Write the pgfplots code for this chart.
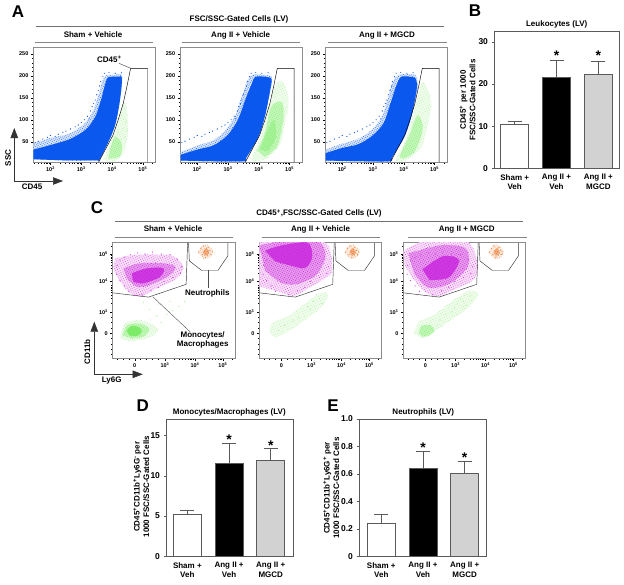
\documentclass[border=0pt]{standalone}
\usepackage{fontspec}
\setmainfont{Liberation Sans}
\usepackage{pgfplots}
\usepackage{pgfplotstable}
\pgfplotsset{compat=1.18}
\usetikzlibrary{arrows.meta,patterns.meta}

\definecolor{frm}{HTML}{8C8C8C}
\definecolor{hdr}{HTML}{707070}
\definecolor{bluecore}{HTML}{0A58EE}
\definecolor{bluepale}{HTML}{DCE7FB}
\definecolor{grnpale}{HTML}{F0FCEC}
\definecolor{grnmid}{HTML}{C4F7BA}
\definecolor{grncore}{HTML}{7CEC68}
\definecolor{grndot}{HTML}{A6F298}
\definecolor{magpale}{HTML}{F9DFFA}
\definecolor{magmid}{HTML}{E99CEE}
\definecolor{magcore}{HTML}{D23EE2}
\definecolor{magdot}{HTML}{BC18DA}
\definecolor{orgpale}{HTML}{FDF0E6}
\definecolor{orgcore}{HTML}{F18A48}
\definecolor{barline}{HTML}{5A5A5A}
\definecolor{bargray}{HTML}{D2D2D2}

% scatter
\pgfplotstableread{
x y
1.50 48
1.60 51
1.75 56
1.90 60
2.00 64
2.15 62
2.25 67
2.40 71
2.50 74
2.65 79
2.80 84
2.90 88
3.00 94
3.10 100
3.20 108
3.25 102
3.30 120
3.35 130
3.40 137
3.45 145
3.50 157
3.55 167
3.60 177
3.63 187
3.70 198
3.75 206
3.90 208
4.10 206
4.30 207
}\bluefringe

\pgfplotstableread{
x y
-0.60 2.55
-0.50 2.75
-0.35 2.86
-0.15 2.95
0.10 3.02
0.35 2.98
0.60 3.05
0.90 2.98
1.20 2.95
1.45 2.78
1.60 2.50
1.55 2.25
1.30 2.10
1.00 1.95
0.80 1.72
0.55 1.60
0.25 1.45
0.00 1.42
-0.20 1.58
-0.35 1.78
-0.50 1.98
-0.62 2.22
}\magfringe

\pgfplotstableread{
x y
2.18 3.05
2.25 3.18
2.30 2.95
2.34 3.28
2.38 3.08
2.40 2.86
2.42 3.00
2.44 3.18
2.46 3.08
2.48 2.94
2.50 3.22
2.52 3.02
2.56 3.12
2.60 2.96
2.64 3.06
}\orgdots

\pgfplotsset{
  flowA/.style={
    scale only axis, width=122.5pt, height=114.5pt, anchor=south west,
    xmin=1.44, xmax=5.42, ymin=3, ymax=264,
    axis line style={draw=frm, line width=.9pt},
    tick align=outside, tick pos=left,
    major tick length=2.4pt, minor tick length=1.3pt,
    every tick/.style={black, line width=.35pt},
    xtick={2,3,4,5}, xticklabels={10\textsuperscript{2},10\textsuperscript{3},10\textsuperscript{4},10\textsuperscript{5}},
    minor xtick={1.48,1.6,1.7,1.78,1.85,1.9,1.95,2.3,2.48,2.6,2.7,2.78,2.85,2.9,2.95,3.3,3.48,3.6,3.7,3.78,3.85,3.9,3.95,4.3,4.48,4.6,4.7,4.78,4.85,4.9,4.95,5.3},
    ytick={50,100,150,200,250}, yticklabels={50,100,150,200,250},
    minor y tick num=4,
    tick label style={font=\fontsize{5.5}{6}\selectfont\bfseries},
    xticklabel style={yshift=1pt}, yticklabel style={xshift=1pt},
  },
  flowC/.style={
    scale only axis, width=122.5pt, height=115.5pt, anchor=south west,
    xmin=-0.75, xmax=3.42, ymin=-0.94, ymax=3.4,
    axis line style={draw=frm, line width=.9pt},
    tick align=outside, tick pos=left,
    major tick length=2.4pt, minor tick length=1.3pt,
    every tick/.style={black, line width=.35pt},
    xtick={0,1.03,2.05,3}, xticklabels={0,10\textsuperscript{3},10\textsuperscript{4},10\textsuperscript{5}},
    minor xtick={-0.6,-0.4,-0.2,0.2,0.4,0.6,0.8,1.33,1.51,1.63,1.73,1.81,1.88,1.93,1.98,2.35,2.53,2.65,2.75,2.83,2.9,2.95,3.3},
    ytick={0,0.79,1.96,2.96}, yticklabels={0,10\textsuperscript{3},10\textsuperscript{4},10\textsuperscript{5}},
    minor ytick={-0.8,-0.6,-0.4,-0.2,0.2,0.4,0.6,1.14,1.32,1.44,1.54,1.62,1.69,1.75,1.8,2.26,2.44,2.56,2.66,2.74,2.81,2.87,2.92,3.26},
    tick label style={font=\fontsize{5.5}{6}\selectfont\bfseries},
    xticklabel style={yshift=1pt}, yticklabel style={xshift=1pt},
  },
  barax/.style={
    scale only axis, anchor=south west,
    axis line style={draw=barline, line width=.7pt},
    tick align=outside, xtick pos=bottom, ytick pos=left,
    xtick={0,1,2},
    xticklabels={{Sham +\\Veh},{Ang II +\\Veh},{Ang II +\\MGCD}},
    x tick label style={align=center, font=\fontsize{8}{9.5}\selectfont\bfseries},
    y tick label style={font=\fontsize{8.5}{9}\selectfont\bfseries},
    major x tick style={draw=none},
    major tick length=2.5pt,
    every tick/.style={barline, line width=.6pt},
  },
  barwhite/.style={ybar, bar shift=0pt, bar width=28pt, fill=white, draw=barline, line width=.7pt,
    error bars/y dir=plus, error bars/y explicit,
    error bars/error bar style={barline, line width=.7pt},
    error bars/error mark options={barline, rotate=90, mark size=7pt, line width=.7pt}},
  barblack/.style={barwhite, fill=black},
  bargrey/.style={barwhite, fill=bargray},
}

% cell cloud: tint, dots colour, dots spacing, outline
\newcommand{\blob}[4]{
  \addplot[smooth, draw=none, fill=#1] coordinates {#4};
  \addplot[smooth, draw=none, pattern={Dots[distance=#3pt, radius=.42pt, angle=23]}, pattern color=#2] coordinates {#4};
}
\newcommand{\gateA}{\addplot[black, line width=.45pt, mark=none] coordinates {(3.56,3) (4.03,65) (4.2,100) (4.36,137) (4.48,175) (4.6,217) (5.15,217) (5.15,3)};}
\newcommand{\gateC}{
  \addplot[black!80, line width=.45pt, mark=none] coordinates {(-0.75,1.52) (0.47,1.36) (1.75,1.84) (1.8,3.4)};
  \addplot[black!80, line width=.45pt, mark=none] coordinates {(1.83,3.4) (1.86,2.72) (2.28,2.36) (2.83,2.36) (3.17,2.91) (3.17,3.4)};
}
\newcommand{\neutro}{
  \blob{orgpale}{orgcore}{2.2}{(2.15,3.05) (2.28,3.28) (2.45,3.34) (2.66,3.12) (2.56,2.84) (2.35,2.78)}
  \blob{orgcore!65}{orgcore}{1.6}{(2.32,3.05) (2.4,3.18) (2.52,3.12) (2.5,2.96) (2.38,2.92)}
  \addplot[only marks, mark=*, mark size=.35pt, color=orgcore] table {\orgdots};
}

\begin{document}
\begin{tikzpicture}
\path[use as bounding box] (0,0) rectangle (624pt,-584pt);

% --- A
\begin{axis}[flowA, at={(33.3pt,-162.3pt)}]
\blob{grnpale}{grndot}{2.4}{(3.71,8) (3.98,54) (4.2,92) (4.35,135) (4.47,130) (4.52,69) (4.36,23) (4.09,5)}
\blob{grnmid}{grncore}{1.9}{(3.87,12) (4.25,16) (4.31,46) (4.09,61) (3.93,31)}
\addplot[only marks, mark=*, mark size=.3pt, color=grncore!60] coordinates {(4.3,110) (4.4,125) (4.45,95) (4.35,80) (4.5,75) (4.42,60) (4.2,70) (4.3,55)};
\blob{bluepale}{bluecore}{1.8}{(1.44,9.8) (2.52,6.8) (3.49,6.8) (3.6,9.8) (3.98,65) (4.14,99) (4.27,152) (4.34,198) (4.25,204) (4.03,202) (3.82,202) (3.69,190) (3.6,167) (3.39,122) (3.11,92) (2.63,69) (1.98,58) (1.44,46)}
\addplot[smooth, draw=none, fill=bluecore] coordinates {(1.44,10) (2.52,7.5) (3.49,7.5) (3.6,10) (3.98,65) (4.14,99) (4.27,152) (4.32,196) (4.2,198) (4.0,198) (3.86,196) (3.76,178) (3.66,150) (3.46,108) (3.15,78) (2.63,56) (1.98,42) (1.44,32)};
\addplot[only marks, mark=*, mark size=.3pt, color=bluecore] table {\bluefringe};
\gateA
\end{axis}

\begin{axis}[flowA, at={(180pt,-162.3pt)}]
\blob{grnpale}{grndot}{2.4}{(3.73,5) (4.05,61) (4.37,137) (4.53,179) (4.8,187) (4.97,141) (4.86,95) (4.7,46) (4.27,12) (3.84,5)}
\blob{grnmid}{grncore}{1.9}{(3.95,30) (4.2,70) (4.4,130) (4.75,140) (4.8,100) (4.6,40) (4.2,15)}
\blob{grncore!65}{grncore}{1.6}{(4.05,32) (4.28,75) (4.5,100) (4.55,60) (4.3,28)}
\blob{bluepale}{bluecore}{1.8}{(1.46,6) (2.43,4.5) (3.51,4.5) (3.6,14) (3.99,61) (4.21,111) (4.37,167) (4.43,194) (4.35,201) (3.83,203) (3.64,190) (3.46,156) (3.24,111) (2.92,76) (2.54,54) (2,41) (1.46,27)}
\addplot[smooth, draw=none, fill=bluecore] coordinates {(1.46,7) (2.43,5.5) (3.51,5.5) (3.6,14) (3.99,61) (4.21,111) (4.37,167) (4.42,192) (4.3,197) (3.9,198) (3.76,180) (3.56,145) (3.32,100) (3.0,66) (2.54,42) (2,32) (1.46,20)};
\addplot[only marks, mark=*, mark size=.3pt, color=bluecore] table {\bluefringe};
\gateA
\end{axis}

\begin{axis}[flowA, at={(325pt,-162.3pt)}]
\blob{grnpale}{grndot}{2.4}{(3.7,5) (4.08,58) (4.35,126) (4.62,186) (4.89,141) (4.78,88) (4.56,35) (4.02,5)}
\blob{grnmid}{grncore}{1.9}{(3.86,16) (4.18,65) (4.45,110) (4.62,80) (4.35,27) (3.97,11)}
\blob{bluepale}{bluecore}{1.8}{(1.46,6) (2.62,4.5) (3.54,4.5) (3.64,16) (4.02,61) (4.26,111) (4.45,171) (4.43,194) (4.35,203) (3.86,203) (3.64,186) (3.48,148) (3.26,103) (2.89,73) (2.51,56) (2.02,46) (1.46,31)}
\addplot[smooth, draw=none, fill=bluecore] coordinates {(1.46,7) (2.62,5.5) (3.54,5.5) (3.64,16) (4.02,61) (4.26,111) (4.42,170) (4.4,192) (4.3,197) (3.92,198) (3.76,178) (3.58,140) (3.34,92) (2.95,62) (2.51,44) (2.02,36) (1.46,24)};
\addplot[only marks, mark=*, mark size=.3pt, color=bluecore] table {\bluefringe};
\gateA
\end{axis}

% --- C
\begin{axis}[flowC, at={(112.7pt,-358.3pt)}]
\addplot[only marks, mark=*, mark size=.3pt, color=grndot] coordinates {(0.9,0.4) (0.75,0.65) (1.1,0.7) (1.3,0.85) (0.5,0.9) (0.8,1.1) (1.5,1.0) (1.7,1.2) (0.3,1.15) (1.2,1.2) (0.55,0.5)};
\blob{grnpale}{grndot}{2.2}{(-0.5,-0.19) (-0.33,0.38) (0.18,0.5) (0.64,0.31) (0.8,0.06) (0.4,-0.19) (-0.16,-0.31)}
\blob{grnmid}{grncore}{1.8}{(-0.42,-0.08) (-0.25,0.3) (0.2,0.36) (0.5,0.15) (0.3,-0.12) (-0.1,-0.2)}
\addplot[smooth, draw=none, fill=grncore] coordinates {(-0.28,0.1) (-0.1,0.28) (0.16,0.22) (0.24,0.06) (0.08,-0.1) (-0.18,-0.08)};
\blob{magpale}{magcore}{2.1}{(-0.67,2.81) (-0.05,2.94) (0.75,2.96) (1.32,2.9) (1.66,2.5) (1.43,2.06) (0.64,1.62) (0.18,1.38) (-0.22,1.56) (-0.56,2.06) (-0.73,2.44)}
\blob{magmid}{magdot}{1.8}{(-0.39,2.44) (0.18,2.63) (0.98,2.63) (1.38,2.5) (1.2,2.19) (0.52,1.81) (0.07,1.75) (-0.27,2.06)}
\blob{magcore}{magdot}{1.5}{(-0.1,2.25) (0.41,2.44) (0.98,2.44) (0.86,2.12) (0.3,1.88) (-0.05,1.94)}
\addplot[only marks, mark=*, mark size=.3pt, color=magcore] table {\magfringe};
\neutro
\gateC
\end{axis}

\begin{axis}[flowC, at={(259.3pt,-358.3pt)}]
\blob{grnpale}{grndot}{2.6}{(-0.4,0) (-0.3,0.4) (0.3,0.7) (0.9,1.2) (1.4,1.55) (1.6,1.4) (1.3,0.9) (0.8,0.5) (0.3,0.1) (-0.2,-0.15)}
\addplot[only marks, mark=*, mark size=.3pt, color=grndot] coordinates {(0.9,1.0) (1.1,1.2) (1.3,1.3) (1.0,0.9) (1.4,1.1) (0.4,0.5) (0.1,0.3) (0.6,0.6) (-0.1,0.1) (1.2,1.45)};
\blob{magpale}{magcore}{2.1}{(-0.75,3.45) (1.35,3.45) (1.68,3.0) (1.72,2.3) (1.4,2.0) (0.7,1.55) (0.4,1.4) (-0.2,1.6) (-0.75,1.75)}
\blob{magmid}{magdot}{1.8}{(-0.75,3.3) (0.0,3.45) (1.25,3.45) (1.5,2.9) (1.2,2.2) (0.55,1.85) (0.0,1.9) (-0.55,2.35)}
\blob{magcore}{magdot}{1.5}{(-0.55,3.1) (0.0,3.3) (0.9,3.4) (1.05,2.85) (0.8,2.45) (0.3,2.55) (-0.2,2.7)}
\addplot[only marks, mark=*, mark size=.3pt, color=magcore] table {\magfringe};
\neutro
\gateC
\end{axis}

\begin{axis}[flowC, at={(403.3pt,-358.3pt)}]
\blob{grnpale}{grndot}{2.4}{(-0.4,0) (-0.2,0.45) (0.3,0.7) (0.9,1.2) (1.5,1.6) (1.8,1.45) (1.4,0.9) (0.8,0.45) (0.3,0.05) (-0.1,-0.2)}
\blob{grnmid}{grncore}{1.8}{(-0.22,0.02) (-0.12,0.28) (0.2,0.3) (0.3,0.08) (0.1,-0.1) (-0.12,-0.12)}
\addplot[only marks, mark=*, mark size=.3pt, color=grndot] coordinates {(0.9,0.8) (1.1,1.1) (1.3,1.2) (1.0,0.95) (1.4,1.05) (0.5,0.5) (0.7,0.7) (1.2,1.3) (0.4,0.3) (1.55,1.4)};
\blob{magpale}{magcore}{2.1}{(-0.76,3.06) (-0.08,3.45) (1.4,3.45) (1.74,2.81) (1.68,2.06) (0.83,1.56) (0.43,1.38) (-0.02,1.56) (-0.42,2.06) (-0.7,2.56)}
\blob{magmid}{magdot}{1.8}{(-0.58,3.0) (0.49,3.3) (1.36,3.2) (1.45,2.5) (0.8,1.85) (0.09,1.72) (-0.38,2.25)}
\blob{magcore}{magdot}{1.5}{(-0.1,2.4) (0.6,2.9) (1.15,2.75) (0.8,2.1) (0.15,2.0)}
\addplot[only marks, mark=*, mark size=.3pt, color=magcore] table {\magfringe};
\neutro
\gateC
\end{axis}

% --- B
\begin{axis}[barax, at={(494pt,-168.3pt)}, width=125pt, height=136.6pt,
  xmin=-0.494, xmax=2.494, ymin=0, ymax=32.4,
  ytick={0,10,20,30}, yticklabels={0,10,20,30}]
\addplot[barwhite] coordinates {(0,10.4) +- (0,0.7)};
\addplot[barblack] coordinates {(1,21.5) +- (0,4.0)};
\addplot[bargrey] coordinates {(2,22.4) +- (0,3.0)};
\node[font=\fontsize{14}{14}\selectfont\bfseries] at (axis cs:1,26.7) {*};
\node[font=\fontsize{14}{14}\selectfont\bfseries] at (axis cs:2,26.6) {*};
\end{axis}

% --- D
\begin{axis}[barax, at={(166pt,-556.3pt)}, width=127.3pt, height=137.3pt,
  xmin=-0.512, xmax=2.54, ymin=0, ymax=17.07,
  ytick={0,5,10,15}, yticklabels={0,5,10,15}]
\addplot[barwhite] coordinates {(0,5.25) +- (0,0.5)};
\addplot[barblack] coordinates {(1,11.6) +- (0,2.5)};
\addplot[bargrey] coordinates {(2,11.9) +- (0,1.5)};
\node[font=\fontsize{14}{14}\selectfont\bfseries] at (axis cs:1,14.5) {*};
\node[font=\fontsize{14}{14}\selectfont\bfseries] at (axis cs:2,13.8) {*};
\end{axis}

% --- E
\begin{axis}[barax, at={(359pt,-556.3pt)}, width=127pt, height=137.3pt,
  xmin=-0.536, xmax=2.512, ymin=0, ymax=1,
  ytick={0,0.2,0.4,0.6,0.8,1}, yticklabels={0,0.2,0.4,0.6,0.8,1.0}]
\addplot[barwhite] coordinates {(0,0.24) +- (0,0.065)};
\addplot[barblack] coordinates {(1,0.64) +- (0,0.125)};
\addplot[bargrey] coordinates {(2,0.605) +- (0,0.09)};
\node[font=\fontsize{14}{14}\selectfont\bfseries] at (axis cs:1,0.79) {*};
\node[font=\fontsize{14}{14}\selectfont\bfseries] at (axis cs:2,0.72) {*};
\end{axis}

% --- headers and labels, pixel coordinates
\begin{scope}[x=1pt, y=-1pt, every node/.style={font=\fontsize{8}{9.5}\selectfont\bfseries, inner sep=0pt}]
\node[font=\fontsize{17}{17}\selectfont\bfseries] at (18,12) {A};
\node[font=\fontsize{17}{17}\selectfont\bfseries] at (475,11) {B};
\node[font=\fontsize{17}{17}\selectfont\bfseries] at (97,208) {C};
\node[font=\fontsize{17}{17}\selectfont\bfseries] at (142.7,405.7) {D};
\node[font=\fontsize{17}{17}\selectfont\bfseries] at (333,405.7) {E};

\draw[hdr, line width=.8pt] (35.7,26.3) -- (444,26.3);
\node[text height=6pt, text depth=1.7pt] at (239,19) {FSC/SSC-Gated Cells (LV)};
\foreach \xa/\xb/\xc/\lab in {35/152.7/93/Sham + Vehicle, 182.3/300/240.7/Ang II + Vehicle, 328/446.7/387/Ang II + MGCD}{
  \draw[hdr!85, line width=1.2pt] (\xa,42.7) -- (\xb,42.7);
  \node[text height=6pt, text depth=1.7pt] at (\xc,35) {\lab};
}
\draw[hdr, line width=.8pt] (115,221) -- (523,221);
\node[text height=6pt, text depth=1.7pt] at (319,213.7) {CD45\textsuperscript{+},FSC/SSC-Gated Cells (LV)};
\foreach \xa/\xb/\xc/\lab in {115/232.7/173/Sham + Vehicle, 261.7/380/320.5/Ang II + Vehicle, 408.3/526.7/466.7/Ang II + MGCD}{
  \draw[hdr!85, line width=1.2pt] (\xa,237.3) -- (\xb,237.3);
  \node[text height=6pt, text depth=1.7pt] at (\xc,229.3) {\lab};
}

\node at (556.7,24) {Leukocytes (LV)};
\node at (229.3,412.7) {Monocytes/Macrophages (LV)};
\node at (423.3,412.7) {Neutrophils (LV)};
\node[rotate=90, align=center] at (467.5,100) {CD45\textsuperscript{+} per 1000\\FSC/SSC-Gated Cells};
\node[rotate=90, align=center] at (141.3,486.7) {CD45\textsuperscript{+}CD11b\textsuperscript{+}Ly6G\textsuperscript{-} per\\1000 FSC/SSC-Gated Cells};
\node[rotate=90, align=center] at (331.3,488) {CD45\textsuperscript{+}CD11b\textsuperscript{+}Ly6G\textsuperscript{+} per\\1000 FSC/SSC-Gated Cells};

% gating arrows
\draw[black!80, line width=.5pt, -{Triangle[length=10pt,width=7.5pt]}] (14.3,181) -- (14.3,128);
\draw[black!80, line width=.5pt, -{Triangle[length=10pt,width=7.5pt]}] (14.3,181) -- (63,181);
\node[rotate=90] at (8,158) {SSC};
\node at (32,187) {CD45};
\draw[black!80, line width=.5pt, -{Triangle[length=10pt,width=7.5pt]}] (94.3,374.3) -- (94.3,321.7);
\draw[black!80, line width=.5pt, -{Triangle[length=10pt,width=7.5pt]}] (94.3,374.3) -- (142.7,374.3);
\node[rotate=90] at (87.3,351.7) {CD11b};
\node at (111.7,381) {Ly6G};

\node at (109.3,59.5) {CD45\textsuperscript{+}};
\draw[black!80, line width=.4pt] (119,63.3) -- (130.7,68.3);

\draw[black!70, line width=.4pt] (208.3,270.3) -- (208.3,287.7);
\node at (207.3,293.3) {Neutrophils};
\draw[black!70, line width=.4pt] (152.7,296.7) -- (190,331.7);
\node[align=center] at (202.7,340) {Monocytes/\\Macrophages};
\end{scope}
\end{tikzpicture}
\end{document}
